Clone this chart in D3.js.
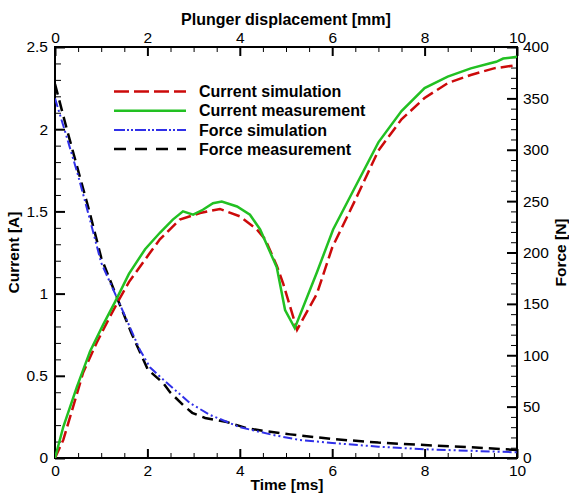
<!DOCTYPE html>
<html>
<head>
<meta charset="utf-8">
<script src="https://cdn.jsdelivr.net/npm/d3@7"></script>
<style>
  body { margin: 0; background: #fff; }
  svg { display: block; }
  text { font-family: "Liberation Sans", Arial, sans-serif; fill: #000; }
</style>
</head>
<body>
<svg id="chart"></svg>
<script>
const width = 569, height = 494;
const margin = { left: 55, right: 52, top: 47, bottom: 36 };

// [time ms, current A]
const currentSim = [
  [0, 0], [0.18, 0.11], [0.39, 0.31], [0.61, 0.52], [0.9, 0.70], [1.19, 0.86],
  [1.36, 0.95], [1.6, 1.07], [2.06, 1.25], [2.27, 1.33], [2.7, 1.45], [3.14, 1.49],
  [3.57, 1.515], [4.0, 1.47], [4.37, 1.39], [4.55, 1.33], [4.8, 1.17], [4.94, 1.06],
  [5.24, 0.78], [5.67, 1.0], [6.0, 1.28], [6.5, 1.57], [7, 1.87], [7.5, 2.06],
  [8, 2.19], [8.5, 2.28], [9, 2.33], [9.5, 2.37], [10, 2.39]
];
const currentMeas = [
  [0, 0], [0.18, 0.19], [0.47, 0.43], [0.76, 0.65], [1.04, 0.81], [1.3, 0.95],
  [1.6, 1.12], [1.95, 1.27], [2.27, 1.37], [2.55, 1.45], [2.77, 1.50], [2.99, 1.48],
  [3.2, 1.51], [3.42, 1.55], [3.61, 1.56], [3.94, 1.53], [4.22, 1.48], [4.44, 1.39],
  [4.8, 1.16], [4.98, 0.90], [5.19, 0.79], [5.67, 1.13], [6.02, 1.39], [6.5, 1.65],
  [7, 1.92], [7.5, 2.11], [8, 2.25], [8.5, 2.32], [9, 2.37], [9.4, 2.40],
  [9.55, 2.41], [9.7, 2.43], [10, 2.44]
];
// [time ms, force N]
const forceSim = [
  [0, 350], [0.25, 313], [0.5, 275], [0.75, 233], [1.0, 190], [1.36, 154],
  [1.84, 105], [2.06, 88], [2.3, 78], [2.92, 53.5], [3.35, 42], [4.0, 30],
  [4.72, 22.4], [5.3, 17.5], [6, 14.6], [7, 11], [8, 8.5], [9, 7], [10, 5.5]
];
const forceMeas = [
  [0, 364], [0.25, 321], [0.5, 280], [0.75, 239], [1.0, 195], [1.36, 154],
  [1.65, 122], [1.95, 92], [2.01, 86], [2.34, 73], [2.49, 64], [2.77, 51.6],
  [2.97, 44], [3.25, 39], [3.72, 35], [4.15, 29], [4.58, 26], [5.09, 23],
  [6, 18.5], [7, 15], [8, 12.6], [9, 10.5], [10, 7.8]
];

const timeTicks = [0, 2, 4, 6, 8, 10];
const dispTicks = [0, 2, 4, 6, 8, 10];
const currentTicks = [0, 0.5, 1, 1.5, 2, 2.5];
const forceTicks = [0, 50, 100, 150, 200, 250, 300, 350, 400];

const legendLabels = ['Current simulation', 'Current measurement', 'Force simulation', 'Force measurement'];

const svg = d3.select('#chart').attr('width', width).attr('height', height);

const x = d3.scaleLinear().domain([0, 10]).range([margin.left, width - margin.right]);
const xTop = d3.scaleLinear().domain([0, 10]).range([margin.left, width - margin.right]);
const yL = d3.scaleLinear().domain([0, 2.5]).range([height - margin.bottom, margin.top]);
const yR = d3.scaleLinear().domain([0, 400]).range([height - margin.bottom, margin.top]);

const plotW = width - margin.left - margin.right;
const plotH = height - margin.top - margin.bottom;

svg.append('clipPath').attr('id', 'clip')
  .append('rect').attr('x', margin.left).attr('y', margin.top).attr('width', plotW).attr('height', plotH);

const minor = (lo, hi, step, majors) => d3.range(lo, hi + step / 2, step)
  .map(v => +v.toFixed(3)).filter(v => !majors.includes(v));

const styleAxis = g => {
  g.select('.domain').remove();
  g.selectAll('line').attr('stroke', '#000').attr('stroke-width', 2);
  g.selectAll('text').style('font-size', '15.5px').style('font-family', '"Liberation Sans", Arial, sans-serif');
};

// bottom
svg.append('g').attr('transform', `translate(0,${height - margin.bottom})`)
  .call(d3.axisBottom(x).tickValues(timeTicks).tickSize(-9).tickPadding(7).tickFormat(d => d))
  .call(styleAxis);
svg.append('g').attr('transform', `translate(0,${height - margin.bottom})`)
  .call(d3.axisBottom(x).tickValues(minor(0, 10, 0.5, timeTicks)).tickSize(-5).tickFormat(''))
  .call(styleAxis).selectAll('line').attr('stroke-width', 1);

// top
svg.append('g').attr('transform', `translate(0,${margin.top})`)
  .call(d3.axisTop(xTop).tickValues(dispTicks).tickSize(-9).tickPadding(4).tickFormat(d => d))
  .call(styleAxis);
svg.append('g').attr('transform', `translate(0,${margin.top})`)
  .call(d3.axisTop(xTop).tickValues(minor(0, 10, 0.5, dispTicks)).tickSize(-5).tickFormat(''))
  .call(styleAxis).selectAll('line').attr('stroke-width', 1);

// left
svg.append('g').attr('transform', `translate(${margin.left},0)`)
  .call(d3.axisLeft(yL).tickValues(currentTicks).tickSize(-10).tickPadding(7).tickFormat(d => d))
  .call(styleAxis);
svg.append('g').attr('transform', `translate(${margin.left},0)`)
  .call(d3.axisLeft(yL).tickValues(minor(0, 2.5, 0.1, currentTicks)).tickSize(-6).tickFormat(''))
  .call(styleAxis).selectAll('line').attr('stroke-width', 1);

// right
svg.append('g').attr('transform', `translate(${width - margin.right},0)`)
  .call(d3.axisRight(yR).tickValues(forceTicks).tickSize(-10).tickPadding(6).tickFormat(d => d))
  .call(styleAxis);
svg.append('g').attr('transform', `translate(${width - margin.right},0)`)
  .call(d3.axisRight(yR).tickValues(minor(0, 400, 10, forceTicks)).tickSize(-6).tickFormat(''))
  .call(styleAxis).selectAll('line').attr('stroke-width', 1);

// frame
svg.append('rect')
  .attr('x', margin.left).attr('y', margin.top).attr('width', plotW).attr('height', plotH)
  .attr('fill', 'none').attr('stroke', '#000').attr('stroke-width', 2);

// axis titles
svg.append('text').attr('x', 287).attr('y', 490).attr('text-anchor', 'middle')
  .style('font-size', '15.5px').style('font-weight', 'bold').text('Time [ms]');
svg.append('text').attr('x', 286).attr('y', 25).attr('text-anchor', 'middle')
  .style('font-size', '16px').style('font-weight', 'bold').text('Plunger displacement [mm]');
svg.append('text').attr('transform', `translate(19,${margin.top + plotH / 2}) rotate(-90)`)
  .attr('text-anchor', 'middle').style('font-size', '15.5px').style('font-weight', 'bold').text('Current [A]');
svg.append('text').attr('transform', `translate(566,${margin.top + plotH / 2}) rotate(-90)`)
  .attr('text-anchor', 'middle').style('font-size', '15.5px').style('font-weight', 'bold').text('Force [N]');

// curves
const lineI = d3.line().x(d => x(d[0])).y(d => yL(d[1]));
const lineF = d3.line().x(d => x(d[0])).y(d => yR(d[1]));

const series = [
  { data: forceMeas, line: lineF, color: '#000000', dash: '11,6', w: 2.5 },
  { data: forceSim, line: lineF, color: '#3030e8', dash: '9,3,2,3,2,3', w: 2 },
  { data: currentSim, line: lineI, color: '#cc0a0a', dash: '12,5', w: 2.5 },
  { data: currentMeas, line: lineI, color: '#22c022', dash: null, w: 2.5 }
];

const plot = svg.append('g').attr('clip-path', 'url(#clip)');
series.forEach(s => {
  plot.append('path')
    .attr('d', s.line(s.data))
    .attr('fill', 'none')
    .attr('stroke', s.color)
    .attr('stroke-width', s.w)
    .attr('stroke-dasharray', s.dash);
});

// legend
const legendStyle = [
  { color: '#cc0a0a', dash: '15,5', w: 2.5 },
  { color: '#22c022', dash: null, w: 2.5 },
  { color: '#3030e8', dash: '11,2,2,2,2,2', w: 2 },
  { color: '#000000', dash: '12,9', w: 2.5 }
];
const legend = svg.append('g');
legendLabels.forEach((label, i) => {
  const yy = 91.5 + i * 19.2;
  const st = legendStyle[i];
  legend.append('line')
    .attr('x1', 114).attr('x2', 186).attr('y1', yy).attr('y2', yy)
    .attr('stroke', st.color).attr('stroke-width', st.w).attr('stroke-dasharray', st.dash);
  legend.append('text').attr('x', 199).attr('y', yy).attr('dy', '0.36em')
    .style('font-size', '16px').style('font-weight', 'bold').text(label);
});
</script>
</body>
</html>
